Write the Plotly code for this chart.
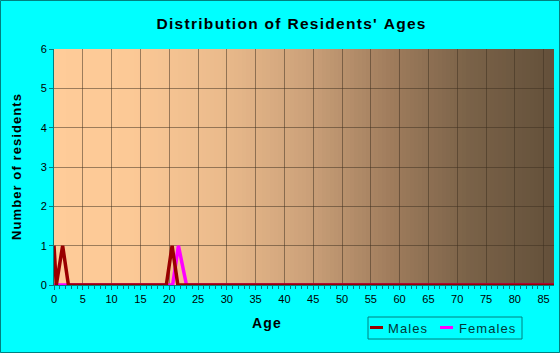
import plotly.graph_objects as go

# Data
male_ages = [0, 0.4, 1.5, 2.5, 19.5, 20.5, 21.5, 87]
male_counts = [1, 0, 1, 0, 0, 1, 0, 0]
female_ages = [0, 2.5, 20.6, 21.6, 23.0, 87]
female_counts = [0, 0, 0, 1, 0, 0]
x_ticks = list(range(0, 90, 5))
y_ticks = [0, 1, 2, 3, 4, 5, 6]
series_names = ["Males", "Females"]
series_colors = ["#990000", "#FF00FF"]

XMAX = 86.8
L, R, T, B = 54, 6, 49, 68
W, H = 560, 353
PW, PH = W - L - R, H - T - B

def spaced(s):
    return "\u200a".join(s)

def px(x):  # pixel -> paper x
    return (x - L) / PW

def py(y):  # pixel -> paper y
    return (H - B - y) / PH

FONT = "Liberation Sans, Arial"

fig = go.Figure()
fig.add_trace(go.Scatter(x=female_ages, y=female_counts, mode="lines", name=series_names[1],
                         line=dict(color=series_colors[1], width=3.5), showlegend=False))
fig.add_trace(go.Scatter(x=male_ages, y=male_counts, mode="lines", name=series_names[0],
                         line=dict(color=series_colors[0], width=3.5), showlegend=False))

# gradient background
stops = [(0.0, (255, 204, 153)), (0.15, (252, 201, 150)), (0.33, (235, 187, 140)),
         (0.5, (205, 162, 122)), (0.67, (160, 125, 93)), (0.83, (122, 98, 72)),
         (1.0, (99, 80, 58))]
def col(f):
    for (a, ca), (b, cb) in zip(stops[:-1], stops[1:]):
        if a <= f <= b:
            t = (f - a) / (b - a)
            return "rgb(%d,%d,%d)" % tuple(round(ca[i] + (cb[i] - ca[i]) * t) for i in range(3))
    return "rgb(%d,%d,%d)" % stops[-1][1]
N = 125
shapes = []
for i in range(N):
    x0 = i / N
    x1 = (i + 1) / N + 0.002
    shapes.append(dict(type="rect", xref="x domain", yref="y domain", x0=x0, x1=min(x1, 1), y0=0, y1=1,
                       fillcolor=col((i + 0.5) / N), line=dict(width=0), layer="below"))
# outer border
shapes.append(dict(type="rect", xref="paper", yref="paper",
                   x0=px(0.5), x1=px(W - 0.5), y0=py(H - 0.5), y1=py(0.5),
                   line=dict(color="#008080", width=1), fillcolor="rgba(0,0,0,0)", layer="above"))

# legend (manual)
shapes.append(dict(type="rect", xref="paper", yref="paper",
                   x0=px(368), x1=px(522), y0=py(339), y1=py(317),
                   line=dict(color="#008080", width=1), fillcolor="#00FFFF", layer="above"))
annotations = []
leg_items = [(370, 387), (440, 458)]
for (lx, tx), name, c in zip(leg_items, series_names, series_colors):
    shapes.append(dict(type="line", xref="paper", yref="paper",
                       x0=px(lx), x1=px(lx + 13), y0=py(327.5), y1=py(327.5),
                       line=dict(color=c, width=3), layer="above"))
    annotations.append(dict(text=spaced(name), xref="paper", yref="paper", x=px(tx - 1), y=py(328),
                            xanchor="left", yanchor="middle", showarrow=False,
                            font=dict(family=FONT, size=13, color="#003838")))
# x axis title
annotations.append(dict(text="<b>" + spaced("Age") + "</b>", xref="paper", yref="paper",
                        x=px(266.5), y=py(323), xanchor="center", yanchor="middle", showarrow=False,
                        font=dict(family=FONT, size=14, color="#000000")))

fig.update_layout(
    width=W, height=H,
    margin=dict(l=L, r=R, t=T, b=B),
    paper_bgcolor="#00FFFF",
    plot_bgcolor="#FFCC99",
    shapes=shapes,
    annotations=annotations,
    title=dict(text="<b>" + spaced("Distribution of Residents' Ages") + "</b>", x=291 / W, xanchor="center",
               y=1 - 24 / H, yanchor="middle",
               font=dict(family=FONT, size=15.5, color="#000000")),
    showlegend=False,
    xaxis=dict(range=[0, XMAX], tickvals=x_ticks, ticktext=[str(v) for v in x_ticks],
               showgrid=True, gridcolor="rgba(60,45,30,0.5)", gridwidth=1,
               ticks="outside", ticklen=4, tickcolor="#008080",
               minor=dict(dtick=1, ticks="outside", ticklen=3, tickcolor="#008080", showgrid=False),
               showline=True, linecolor="#008080", zeroline=False,
               tickfont=dict(family=FONT, size=11, color="#000000")),
    yaxis=dict(range=[0, 6], tickvals=y_ticks, ticktext=[str(v) for v in y_ticks],
               showgrid=True, gridcolor="rgba(60,45,30,0.5)", gridwidth=1,
               ticks="outside", ticklen=4, tickcolor="#008080",
               showline=True, linecolor="#008080", zeroline=False,
               tickfont=dict(family=FONT, size=11, color="#000000"),
               title=dict(text="<b>" + spaced("Number of residents") + "</b>", standoff=16,
                          font=dict(family=FONT, size=13, color="#000000"))),
)
fig.write_html("out.html")
